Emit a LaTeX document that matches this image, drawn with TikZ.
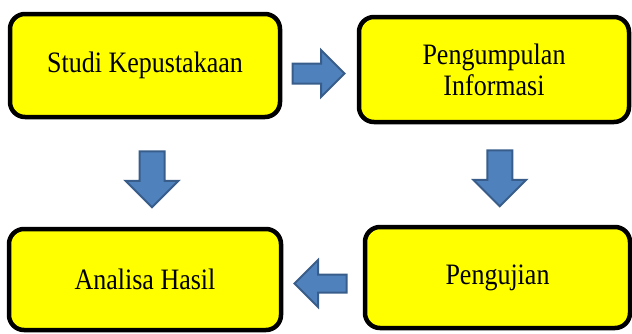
\documentclass[tikz,border=0pt]{standalone}
\usepackage{fontspec}
\setmainfont{Liberation Serif}
\usepackage{xcolor}
\usepackage{tikz}
\usetikzlibrary{shapes, shapes.arrows, calc, positioning}
\definecolor{BoxYellow}{HTML}{FFFF00}
\definecolor{ArrowFill}{HTML}{4F81BD}
\definecolor{ArrowEdge}{HTML}{385D8A}
\newcommand{\tallline}[1]{\scalebox{1}[1.14]{#1}}

\begin{document}
\begin{tikzpicture}[
  x=1pt, y=-1pt,
  stagebox/.style={draw=black, fill=BoxYellow, rounded corners=15pt, line width=4.5pt, align=center, font=\fontsize{26}{31}\selectfont, inner sep=0pt},
  blockarrow/.style={single arrow, draw=ArrowEdge, fill=ArrowFill, line width=2pt, single arrow tip angle=90}
  ]
  \useasboundingbox (0,0) rectangle (632,333);
  % Stage 1
  \node[stagebox, minimum width=270pt, minimum height=103pt] (studi) at (145, 65.5) {\tallline{Studi Kepustakaan}};
  % Stage 2
  \node[stagebox, minimum width=270pt, minimum height=105pt] (info) at (494, 69.5) {\tallline{Pengumpulan}\\\tallline{Informasi}};
  % Stage 3
  \node[stagebox, minimum width=265pt, minimum height=101pt] (uji) at (497.5, 277.5) {\tallline{Pengujian}};
  % Stage 4
  \node[stagebox, minimum width=272pt, minimum height=101pt] (analisa) at (145, 279.5) {\tallline{Analisa Hasil}};
  % Arrows
  \node[blockarrow, inner sep=9pt, single arrow head extend=13.5pt, minimum height=52pt] (a1)
    at ($(studi.east)!0.5!(info.west)+(-6,6)$) {};
  \node[blockarrow, rotate=-90, inner sep=11.5pt, single arrow head extend=14pt, minimum height=56pt] (a2)
    at ($(info.south)!0.5!(uji.north)+(4,-2.5)$) {};
  \node[blockarrow, rotate=180, inner sep=8pt, single arrow head extend=14.5pt, minimum height=52pt] (a3)
    at ($(uji.west)!0.5!(analisa.east)+(2,5)$) {};
  \node[blockarrow, rotate=-90, inner sep=11.5pt, single arrow head extend=14pt, minimum height=56pt] (a4)
    at ($(studi.south)!0.5!(analisa.north)+(7,0)$) {};
\end{tikzpicture}
\end{document}
